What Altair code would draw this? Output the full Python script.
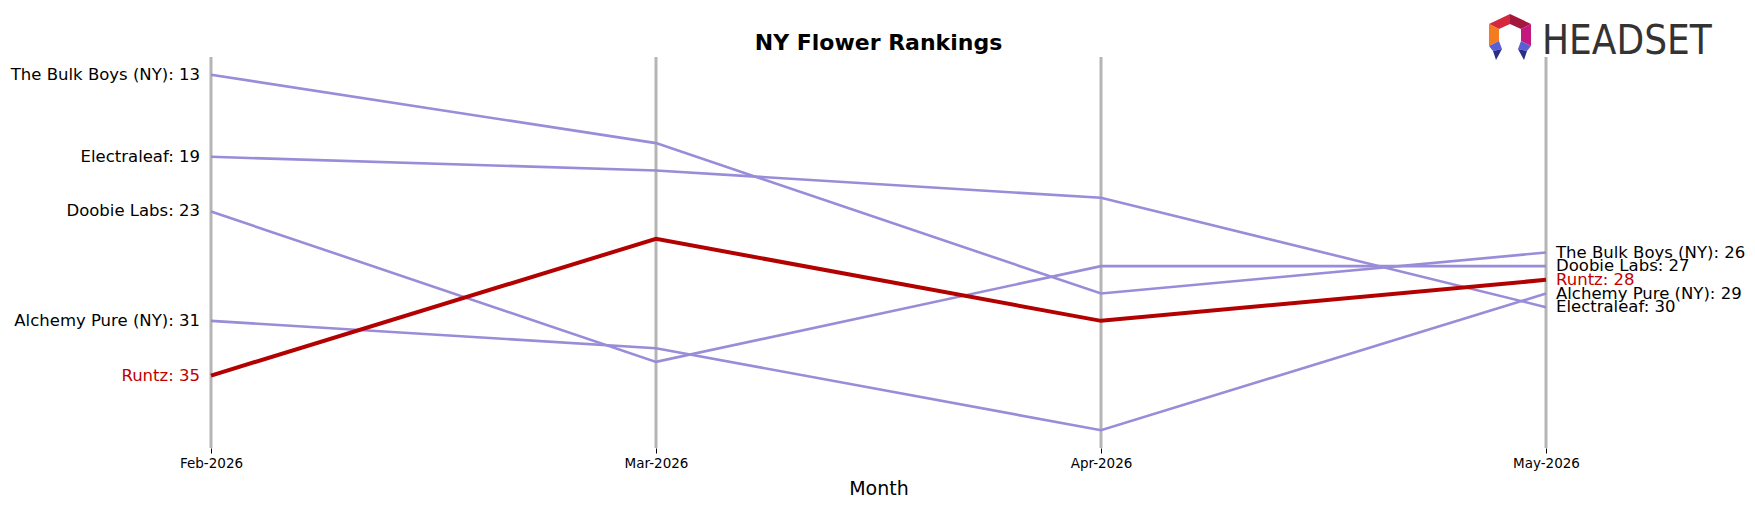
import altair as alt
import pandas as pd

# ---------------- data ----------------
months = ["Feb-2026", "Mar-2026", "Apr-2026", "May-2026"]
brands = ["The Bulk Boys (NY)", "Electraleaf", "Doobie Labs", "Alchemy Pure (NY)", "Runtz"]
ranks = {
    "The Bulk Boys (NY)": [13, 18, 29, 26],
    "Electraleaf": [19, 20, 22, 30],
    "Doobie Labs": [23, 34, 27, 27],
    "Alchemy Pure (NY)": [31, 33, 39, 29],
    "Runtz": [35, 25, 31, 28],
}
highlight = "Runtz"
title_text = "NY Flower Rankings"
x_title = "Month"
logo_text = "HEADSET"

# ---------------- styling ----------------
W, H = 1335, 391
PURPLE = "#9a8cd8"
RED_LINE = "#b30000"
RED_TEXT = "#c00000"
GRID = "#b5b5b5"
FONT = "DejaVu Sans"

rows = []
for b in brands:
    for m, r in zip(months, ranks[b]):
        rows.append({"brand": b, "month": m, "rank": r,
                     "label": f"{b}: {r}",
                     "tcolor": RED_TEXT if b == highlight else "black"})
df = pd.DataFrame(rows)
df_first = df[df["month"] == months[0]]
df_last = df[df["month"] == months[-1]]
df_month = pd.DataFrame({"month": months})

xscale = alt.Scale(domain=months, type="point", padding=0)
x_enc = alt.X("month:O", sort=months, scale=xscale,
              axis=alt.Axis(title=x_title, labelFontSize=13.5, labelFont=FONT, labelColor="black",
                            titleFontSize=19, titleFont=FONT, titleFontWeight="normal",
                            titleColor="black", domain=False, grid=False, ticks=True,
                            tickSize=5, tickColor="black", tickWidth=1, labelPadding=3,
                            titlePadding=10, labelAngle=0))
y_enc = alt.Y("rank:Q", scale=alt.Scale(domain=[11.7, 40.3], reverse=True, nice=False, zero=False),
              axis=None)

rules = alt.Chart(df_month).mark_rule(color=GRID, strokeWidth=3).encode(
    x=x_enc, y=alt.value(0), y2=alt.value(H))

others = alt.Chart(df[df["brand"] != highlight]).mark_line(
    color=PURPLE, strokeWidth=2.6).encode(x=x_enc, y=y_enc, detail="brand:N")

hl = alt.Chart(df[df["brand"] == highlight]).mark_line(
    color=RED_LINE, strokeWidth=4).encode(x=x_enc, y=y_enc)

left_labels = alt.Chart(df_first).mark_text(
    align="right", baseline="middle", dx=-11, fontSize=16.5, font=FONT).encode(
    x=x_enc, y=y_enc, text="label:N", color=alt.Color("tcolor:N", scale=None))

right_labels = alt.Chart(df_last).mark_text(
    align="left", baseline="middle", dx=10, fontSize=16.5, font=FONT).encode(
    x=x_enc, y=y_enc, text="label:N", color=alt.Color("tcolor:N", scale=None))

title = alt.Chart(pd.DataFrame({"t": [title_text]})).mark_text(
    align="center", baseline="alphabetic", fontSize=22, font=FONT, fontWeight="bold",
    color="black").encode(x=alt.value(W / 2), y=alt.value(-7), text="t:N")

# ---------------- logo (decorative) ----------------
S = 26.0
def P(pts):
    return "M" + " L".join(f"{x / S:.3f},{y / S:.3f}" for x, y in pts) + " Z"

T, UR, LR, LL, UL = (0, -21), (21, -11), (21, 11), (-21, 11), (-21, -11)
Ti, URi, LRi, LLi, ULi = (0, -11), (11, -6), (11, 6), (-11, 6), (-11, -6)
logo_pieces = pd.DataFrame({
    "path": [
        P([UL, T, Ti, ULi]),
        P([T, UR, URi, Ti]),
        P([UR, LR, LRi, URi]),
        P([UL, ULi, LLi, LL]),
        P([LL, LLi, (-8, 14), (-17, 16)]),
        P([(-17, 16), (-8, 14), (-14, 25)]),
        P([LR, LRi, (8, 14), (17, 16)]),
        P([(17, 16), (8, 14), (14, 25)]),
    ],
    "col": ["#d6283c", "#a3173c", "#c3187e", "#f47c20",
            "#5b5fd6", "#2a2f85", "#5b5fd6", "#2a2f85"],
})
logo_icon = alt.Chart(logo_pieces).mark_point(filled=True, opacity=1, strokeWidth=0, size=S * S * 4).encode(
    x=alt.value(1299), y=alt.value(-22),
    shape=alt.Shape("path:N", scale=None),
    color=alt.Color("col:N", scale=None))

logo_word = alt.Chart(pd.DataFrame({"t": [logo_text]})).mark_text(
    align="left", baseline="alphabetic", fontSize=40, color="#333333",
    font="Liberation Sans Narrow, DejaVu Sans Condensed, sans-serif").encode(
    x=alt.value(1331), y=alt.value(-3), text="t:N")

chart = alt.layer(rules, others, hl, left_labels, right_labels, title, logo_icon, logo_word).properties(
    width=W, height=H,
    autosize=alt.AutoSizeParams(type="none"),
    padding={"left": 211, "top": 57, "right": 209, "bottom": 59},
    background="white",
).configure_view(stroke=None)

chart.save("out.html", embed_options={"renderer": "svg", "actions": False})
